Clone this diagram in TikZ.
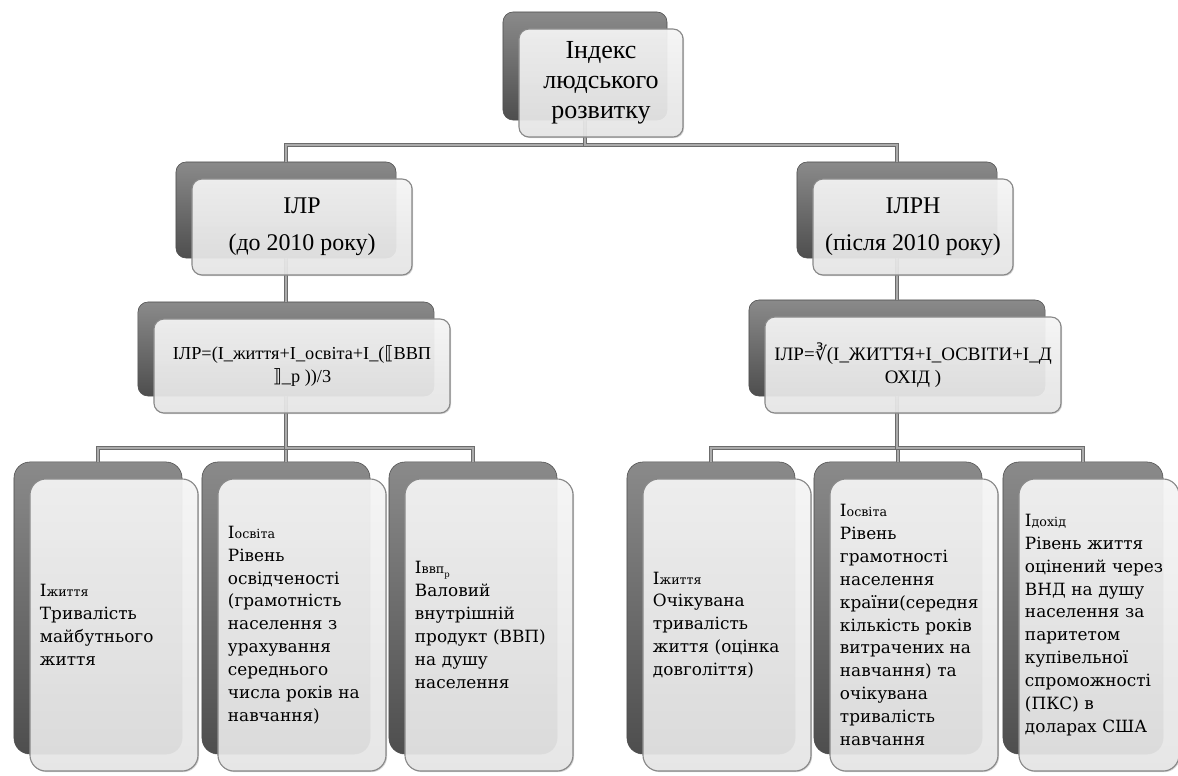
\documentclass[tikz,border=0pt]{standalone}
\usepackage{fontspec}
\setmainfont{Liberation Serif}
\newfontfamily\slabfont{DejaVu Serif}
\newfontfamily\symfont{DejaVu Sans}
\usetikzlibrary{shadows}

\definecolor{backtop}{HTML}{8A8A8A}
\definecolor{backbot}{HTML}{4E4E4E}
\definecolor{facetop}{HTML}{F9F9F9}
\definecolor{facebot}{HTML}{E8E8E8}
\definecolor{faceline}{HTML}{888888}
\definecolor{linkfill}{HTML}{ABABAB}
\definecolor{linkline}{HTML}{6C6C6C}

% small index letters after I
\newcommand{\idx}[1]{{\fontsize{9}{10}\selectfont #1}}

\tikzset{
  backbox/.style={rounded corners=0.25cm, top color=backtop, bottom color=backbot, draw=backbot},
  facebox/.style={rounded corners=0.25cm, draw=faceline, line width=0.8pt,
    top color=facetop, bottom color=facebot, fill opacity=0.9, text opacity=1,
    drop shadow={shadow xshift=0.8pt, shadow yshift=-0.8pt, opacity=0.35},
    xshift=0.4cm, yshift=-0.425cm},
  link/.style={draw=linkline, double=linkfill, line width=0.6pt, double distance=1.6pt},
  headtext/.style={font=\fontsize{18.5}{21.5}\selectfont, align=center},
  formtext/.style={font=\fontsize{13}{16}\selectfont, align=center, inner xsep=2pt},
  leaftext/.style={font=\slabfont\fontsize{12}{16.3}\selectfont, align=left,
    text width=3.7cm, inner xsep=0.25cm, rounded corners=0.4cm}
}

\begin{document}
\begin{tikzpicture}[x=0.025cm, y=-0.025cm]
\useasboundingbox (0,0) rectangle (1178,776);

% back boxes
\node[backbox, minimum width=4.1cm, minimum height=2.7cm] (topb) at (585,66) {};
\node[backbox, minimum width=5.5cm, minimum height=2.4cm] (ilpb) at (286,210) {};
\node[backbox, minimum width=5cm, minimum height=2.4cm] (ilpnb) at (897,210) {};
\node[backbox, minimum width=7.4cm, minimum height=2.35cm] (formlb) at (286,349) {};
\node[backbox, minimum width=7.4cm, minimum height=2.4cm] (formrb) at (897,348) {};
\foreach \name/\xpos in {l1b/98, l2b/286, l3b/473, r1b/711, r2b/898}
  \node[backbox, rounded corners=0.4cm, minimum width=4.2cm, minimum height=7.3cm] (\name) at (\xpos,608) {};
\node[backbox, rounded corners=0.4cm, minimum width=4cm, minimum height=7.3cm] (r3b) at (1083,608) {};

% connectors
\draw[link] (topb.south) -- ++(0,25) -| (ilpb.north);
\draw[link] (topb.south) -- ++(0,25) -| (ilpnb.north);
\draw[link] (ilpb.south) -- (formlb.north);
\draw[link] (ilpnb.south) -- (formrb.north);
\foreach \leaf in {l1b, l2b, l3b}
  \draw[link] (formlb.south) -- ++(0,52) -| (\leaf.north);
\foreach \leaf in {r1b, r2b, r3b}
  \draw[link] (formrb.south) -- ++(0,52) -| (\leaf.north);

% front boxes
\node[facebox, headtext, minimum width=4.1cm, minimum height=2.7cm] (top) at (topb)
  {Індекс\\людського\\розвитку};
\node[facebox, headtext, font=\fontsize{17}{26}\selectfont, minimum width=5.5cm, minimum height=2.4cm] (ilp) at (ilpb)
  {ІЛР\\(до 2010 року)};
\node[facebox, headtext, font=\fontsize{17}{26}\selectfont, minimum width=5cm, minimum height=2.4cm] (ilpn) at (ilpnb)
  {ІЛРН\\(після 2010 року)};
\node[facebox, formtext, minimum width=7.4cm, minimum height=2.35cm] (forml) at (formlb)
  {ІЛР=(I\_життя+I\_освіта+I\_({\symfont ⟦}ВВП\\{\symfont ⟧}\_р ))/3};
\node[facebox, formtext, font=\fontsize{13.5}{16.5}\selectfont, minimum width=7.4cm, minimum height=2.4cm] (formr) at (formrb)
  {ІЛР={\symfont ∛}(I\_ЖИТТЯ+I\_ОСВІТИ+I\_Д\\ОХІД )};

\node[facebox, leaftext, minimum height=7.3cm] (l1) at (l1b)
  {I\idx{життя}\\Тривалість\\майбутнього\\життя};
\node[facebox, leaftext, minimum height=7.3cm] (l2) at (l2b)
  {I\idx{освіта}\\Рівень\\освідченості\\(грамотність\\населення з\\урахування\\середнього\\числа років на\\навчання)};
\node[facebox, leaftext, minimum height=7.3cm] (l3) at (l3b)
  {I\idx{ввп}\raisebox{-0.4ex}{\fontsize{6}{7}\selectfont р}\\Валовий\\внутрішній\\продукт (ВВП)\\на душу\\населення};
\node[facebox, leaftext, minimum height=7.3cm] (r1) at (r1b)
  {I\idx{життя}\\Очікувана\\тривалість\\життя (оцінка\\довголіття)};
\node[facebox, leaftext, minimum height=7.3cm] (r2) at (r2b)
  {I\idx{освіта}\\Рівень\\грамотності\\населення\\країни(середня\\кількість років\\витрачених на\\навчання) та\\очікувана\\тривалість\\навчання};
\node[facebox, leaftext, text width=3.7cm, inner xsep=0.15cm, minimum height=7.3cm] (r3) at (r3b)
  {I\idx{дохід}\\Рівень життя\\оцінений через\\ВНД на душу\\населення за\\паритетом\\купівельної\\спроможності\\(ПКС) в\\доларах США};
\end{tikzpicture}
\end{document}
